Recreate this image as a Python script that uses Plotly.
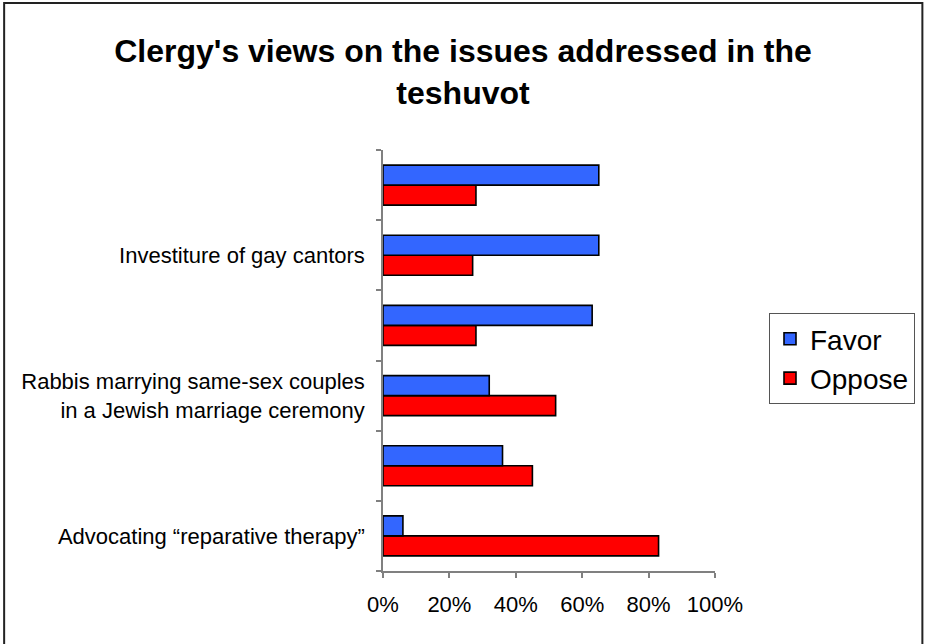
import plotly.graph_objects as go

# Data (bottom to top)
categories = [
    "Advocating “reparative therapy”",
    " ",
    "Rabbis marrying same-sex couples<br>in a Jewish marriage ceremony",
    "  ",
    "Investiture of gay cantors",
    "   ",
]
favor = [6, 36, 32, 63, 65, 65]
oppose = [83, 45, 52, 28, 27, 28]
x_ticks = [0, 20, 40, 60, 80, 100]
x_tick_labels = ["0%", "20%", "40%", "60%", "80%", "100%"]

W, H = 926, 644
L, R, T, B = 383, 716, 150, 571

FONT = "Liberation Sans, Arial, sans-serif"

fig = go.Figure()
fig.add_trace(go.Bar(
    y=categories, x=oppose, orientation="h", name="Oppose",
    marker=dict(color="#FF0000", line=dict(color="#000000", width=1.6)),
))
fig.add_trace(go.Bar(
    y=categories, x=favor, orientation="h", name="Favor",
    marker=dict(color="#3366FF", line=dict(color="#000000", width=1.6)),
))

def px(x):
    return (x - L) / (R - L)

def py(y):
    return (B - y) / (B - T)

fig.add_shape(type="rect", xref="paper", yref="paper",
              x0=px(3), x1=px(924), y0=py(660), y1=py(3),
              line=dict(color="#222222", width=2), fillcolor="rgba(0,0,0,0)")

fig.update_layout(
    width=W, height=H,
    margin=dict(l=L, r=W - R, t=T, b=H - B),
    paper_bgcolor="white", plot_bgcolor="white",
    barmode="group", bargap=0.43, bargroupgap=0,
    font=dict(family=FONT, color="#000000"),
    title=dict(
        text="<b>Clergy's views on the issues addressed in the<br>teshuvot</b>",
        x=0.5, xref="container", xanchor="center",
        y=1 - 62 / H, yref="container", yanchor="top",
        font=dict(family=FONT, size=32, color="#000000"),
    ),
    legend=dict(
        x=px(769), y=py(313), xanchor="left", yanchor="top",
        traceorder="reversed",
        bordercolor="#555555", borderwidth=1,
        font=dict(family=FONT, size=28, color="#000000"),
        bgcolor="white",
    ),
    showlegend=True,
)

fig.update_xaxes(
    range=[0, 100], tickmode="array", tickvals=x_ticks, ticktext=x_tick_labels,
    showgrid=False, zeroline=False,
    showline=True, linecolor="#808080", linewidth=1.5,
    ticks="outside", ticklen=5, tickcolor="#808080", tickwidth=1.5,
    tickfont=dict(family=FONT, size=22, color="#000000"),
    ticklabelstandoff=8,
)
fig.update_yaxes(
    categoryorder="array", categoryarray=categories,
    showgrid=False, zeroline=False,
    showline=True, linecolor="#808080", linewidth=1.5,
    ticks="outside", ticklen=5, tickcolor="#808080", tickwidth=1.5,
    tickson="boundaries",
    tickfont=dict(family=FONT, size=22, color="#000000"),
    ticklabelstandoff=12,
)

fig.write_html("out.html",
               config={"displayModeBar": False},
               post_script="document.body.style.margin='0';document.body.style.padding='0';")
